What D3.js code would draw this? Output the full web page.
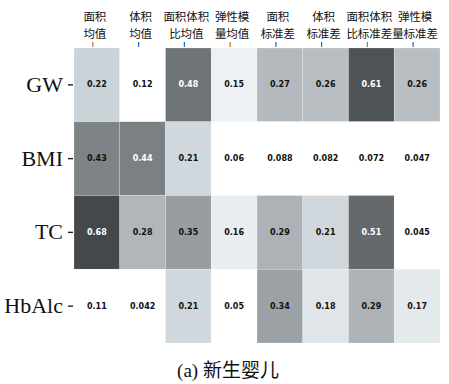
<!DOCTYPE html>
<html>
<head>
<meta charset="utf-8">
<script src="https://cdn.jsdelivr.net/npm/d3@7/dist/d3.min.js"></script>
<style>
  html, body { margin: 0; padding: 0; background: #fff; }
  svg { display: block; }
</style>
</head>
<body>
<svg id="chart" width="449" height="384"></svg>
<script>
// Correlation heatmap: newborn indicators vs. ultrasound features
const rowNames = ["GW", "BMI", "TC", "HbAlc"];
const colNames = ["面积均值", "体积均值", "面积体积比均值", "弹性模量均值",
                  "面积标准差", "体积标准差", "面积体积比标准差", "弹性模量标准差"];
const colLineTop = ["面积", "体积", "面积体积", "弹性模", "面积", "体积", "面积体积", "弹性模"];
const colLineBottom = ["均值", "均值", "比均值", "量均值", "标准差", "标准差", "比标准差", "量标准差"];

const valuesGW    = [0.22, 0.12, 0.48, 0.15, 0.27, 0.26, 0.61, 0.26];
const valuesBMI   = [0.43, 0.44, 0.21, 0.06, 0.088, 0.082, 0.072, 0.047];
const valuesTC    = [0.68, 0.28, 0.35, 0.16, 0.29, 0.21, 0.51, 0.045];
const valuesHbAlc = [0.11, 0.042, 0.21, 0.05, 0.34, 0.18, 0.29, 0.17];

const captionText = "(a) 新生婴儿";

const rowValues = [valuesGW, valuesBMI, valuesTC, valuesHbAlc];
const cells = [];
rowNames.forEach((r, i) => {
  colNames.forEach((c, j) => {
    cells.push({ row: r, col: c, value: rowValues[i][j] });
  });
});

const svg = d3.select("#chart");

const x = d3.scaleBand().domain(colNames).range([74, 440]).padding(0);
const y = d3.scaleBand().domain(rowNames).range([48, 343]).padding(0);

// Grey-blue sequential scale, white for weak correlations
const color = d3.scaleLinear()
  .domain([0.12, 0.15, 0.21, 0.27, 0.35, 0.44, 0.51, 0.61, 0.68])
  .range(["#ffffff", "#edf1f4", "#d1d8dd", "#b3b9bd", "#989da0",
          "#7a8083", "#65696c", "#4e5356", "#43484b"])
  .clamp(true);

// Cells
svg.append("g")
  .selectAll("rect")
  .data(cells)
  .join("rect")
  .attr("x", d => x(d.col))
  .attr("y", d => y(d.row))
  .attr("width", x.bandwidth())
  .attr("height", y.bandwidth())
  .attr("fill", d => color(d.value))
  .attr("stroke", "#ffffff")
  .attr("stroke-opacity", 0.35)
  .attr("stroke-width", 0.6);

// Value annotations
svg.append("g")
  .selectAll("text")
  .data(cells)
  .join("text")
  .attr("x", d => x(d.col) + x.bandwidth() / 2)
  .attr("y", d => y(d.row) + y.bandwidth() / 2)
  .attr("text-anchor", "middle")
  .attr("dominant-baseline", "central")
  .attr("font-family", "DejaVu Sans, sans-serif")
  .attr("font-weight", "bold")
  .attr("font-size", 8)
  .attr("fill", d => d.value >= 0.44 ? "#ffffff" : "#111111")
  .text(d => String(d.value));

// Left axis (row names)
const yAxis = svg.append("g")
  .attr("transform", "translate(73,0)")
  .call(d3.axisLeft(y).tickSize(5).tickPadding(5));
yAxis.select(".domain").remove();
yAxis.selectAll(".tick line").attr("stroke", "#222").attr("stroke-width", 1.4);
yAxis.selectAll(".tick text")
  .attr("font-family", "Liberation Serif, Times New Roman, serif")
  .attr("font-size", 22)
  .attr("fill", "#111");

// Top axis (feature names, two lines each)
const xAxis = svg.append("g")
  .attr("transform", "translate(-4,47)")
  .call(d3.axisTop(x).tickSize(5).tickFormat(""));
xAxis.select(".domain").remove();
xAxis.selectAll(".tick text").remove();
xAxis.selectAll(".tick line")
  .attr("stroke", (d, i) => i % 3 === 0 ? "#b07a30" : "#2a6aa8")
  .attr("stroke-width", 1.2);

const labelFont = "Noto Sans CJK SC, sans-serif";
xAxis.selectAll(".tick").each(function(d) {
  const j = colNames.indexOf(d);
  const g = d3.select(this);
  g.append("text")
    .attr("class", "label-top")
    .attr("x", 2)
    .attr("y", -26.5)
    .attr("text-anchor", "middle")
    .attr("font-family", labelFont)
    .attr("font-size", 11.5)
    .attr("fill", "#111")
    .text(colLineTop[j]);
  g.append("text")
    .attr("class", "label-bottom")
    .attr("x", 2)
    .attr("y", -9.5)
    .attr("text-anchor", "middle")
    .attr("font-family", labelFont)
    .attr("font-size", 11.5)
    .attr("fill", "#111")
    .text(colLineBottom[j]);
});

// Caption
svg.append("text")
  .attr("x", 228)
  .attr("y", 377)
  .attr("text-anchor", "middle")
  .attr("font-family", "Liberation Serif, Noto Sans CJK SC, serif")
  .attr("font-size", 19)
  .attr("fill", "#111")
  .text(captionText);
</script>
</body>
</html>
